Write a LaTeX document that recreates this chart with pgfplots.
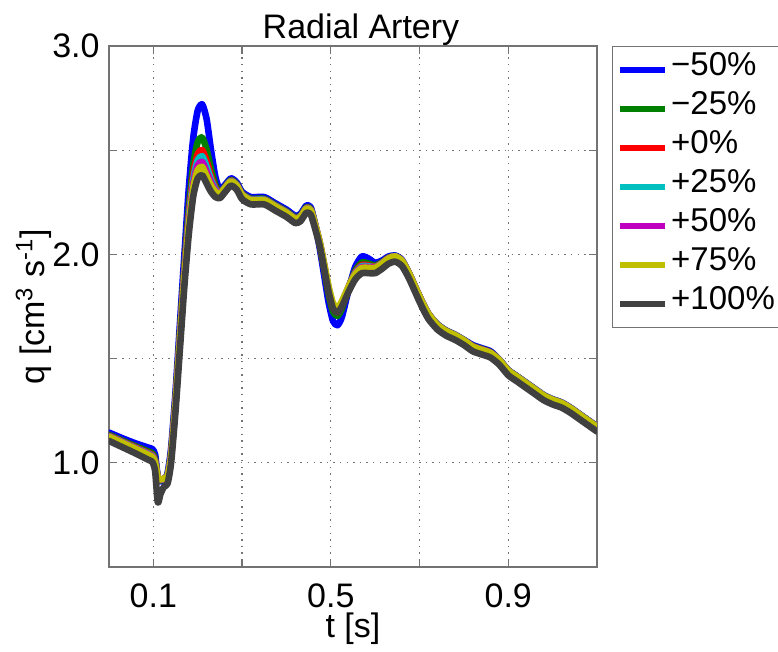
\documentclass[border=0pt]{standalone}
\usepackage{fontspec}
\setmainfont{Liberation Sans}
\usepackage{pgfplots}
\pgfplotsset{compat=1.18}
\usepackage{pgfplotstable}
\usetikzlibrary{calc}

\definecolor{cBlue}{rgb}{0,0,1}
\definecolor{cGreen}{rgb}{0,0.5,0}
\definecolor{cRed}{rgb}{1,0,0}
\definecolor{cCyan}{rgb}{0,0.75,0.75}
\definecolor{cMag}{rgb}{0.75,0,0.75}
\definecolor{cYel}{rgb}{0.75,0.75,0}
\definecolor{cDark}{rgb}{0.25,0.25,0.25}

% t, then -50% ... +100%
\pgfplotstableread{
t     m50   m25   p0    p25   p50   p75   p100
0.000 1.145 1.134 1.130 1.128 1.127 1.125 1.105
0.030 1.118 1.106 1.102 1.100 1.098 1.096 1.075
0.060 1.093 1.079 1.074 1.071 1.069 1.067 1.045
0.090 1.072 1.053 1.046 1.043 1.040 1.037 1.013
0.098 1.065 1.045 1.037 1.033 1.030 1.027 1.003
0.104 1.040 1.019 1.011 1.007 1.003 1.000 0.960
0.110 0.930 0.930 0.930 0.930 0.930 0.930 0.810
0.116 0.910 0.915 0.917 0.918 0.919 0.920 0.850
0.124 0.920 0.923 0.924 0.924 0.925 0.925 0.885
0.132 0.950 0.942 0.939 0.938 0.936 0.935 0.900
0.140 1.070 1.049 1.041 1.037 1.033 1.030 1.000
0.150 1.340 1.308 1.296 1.290 1.285 1.280 1.250
0.160 1.670 1.628 1.612 1.604 1.596 1.590 1.550
0.170 2.000 1.942 1.920 1.909 1.899 1.890 1.850
0.180 2.320 2.225 2.189 2.171 2.154 2.140 2.100
0.190 2.560 2.433 2.385 2.361 2.339 2.320 2.280
0.200 2.690 2.539 2.482 2.453 2.428 2.405 2.365
0.210 2.720 2.561 2.501 2.471 2.444 2.420 2.380
0.220 2.650 2.504 2.449 2.422 2.397 2.375 2.340
0.230 2.500 2.410 2.376 2.359 2.344 2.330 2.300
0.240 2.370 2.333 2.319 2.312 2.306 2.300 2.275
0.250 2.310 2.299 2.295 2.293 2.292 2.290 2.270
0.262 2.335 2.327 2.324 2.323 2.321 2.320 2.300
0.275 2.365 2.357 2.354 2.353 2.351 2.350 2.330
0.288 2.345 2.337 2.334 2.333 2.331 2.330 2.310
0.300 2.300 2.292 2.289 2.288 2.286 2.285 2.265
0.320 2.275 2.267 2.264 2.263 2.261 2.260 2.240
0.350 2.275 2.267 2.264 2.263 2.261 2.260 2.240
0.375 2.245 2.237 2.234 2.233 2.231 2.230 2.210
0.400 2.215 2.207 2.204 2.203 2.201 2.200 2.180
0.420 2.185 2.177 2.174 2.173 2.171 2.170 2.150
0.432 2.195 2.187 2.184 2.183 2.181 2.180 2.160
0.445 2.235 2.227 2.224 2.223 2.221 2.220 2.200
0.455 2.225 2.217 2.214 2.213 2.211 2.210 2.190
0.465 2.140 2.140 2.140 2.140 2.140 2.140 2.120
0.475 2.030 2.046 2.052 2.055 2.058 2.060 2.040
0.485 1.900 1.929 1.940 1.946 1.951 1.955 1.930
0.495 1.770 1.810 1.825 1.832 1.839 1.845 1.820
0.505 1.680 1.725 1.742 1.751 1.758 1.765 1.740
0.515 1.660 1.705 1.722 1.731 1.738 1.745 1.720
0.525 1.700 1.740 1.755 1.762 1.769 1.775 1.750
0.540 1.830 1.838 1.841 1.842 1.844 1.845 1.820
0.555 1.940 1.921 1.914 1.911 1.908 1.905 1.880
0.570 1.990 1.961 1.950 1.944 1.939 1.935 1.910
0.585 1.980 1.956 1.947 1.943 1.939 1.935 1.910
0.600 1.960 1.947 1.942 1.939 1.937 1.935 1.910
0.615 1.970 1.962 1.959 1.958 1.956 1.955 1.930
0.630 1.990 1.985 1.983 1.982 1.981 1.980 1.955
0.645 1.995 1.992 1.991 1.991 1.990 1.990 1.965
0.660 1.975 1.972 1.971 1.971 1.970 1.970 1.945
0.675 1.915 1.915 1.915 1.915 1.915 1.915 1.890
0.690 1.845 1.845 1.845 1.845 1.845 1.845 1.820
0.705 1.775 1.775 1.775 1.775 1.775 1.775 1.750
0.720 1.715 1.715 1.715 1.715 1.715 1.715 1.690
0.740 1.665 1.664 1.663 1.663 1.662 1.662 1.640
0.760 1.635 1.634 1.633 1.633 1.632 1.632 1.610
0.780 1.615 1.614 1.613 1.613 1.612 1.612 1.590
0.800 1.590 1.589 1.588 1.588 1.587 1.587 1.565
0.820 1.565 1.561 1.559 1.558 1.558 1.557 1.535
0.840 1.550 1.546 1.544 1.543 1.543 1.542 1.520
0.860 1.535 1.531 1.529 1.528 1.528 1.527 1.505
0.880 1.495 1.494 1.493 1.493 1.492 1.492 1.470
0.900 1.445 1.444 1.443 1.443 1.442 1.442 1.420
0.920 1.415 1.414 1.413 1.413 1.412 1.412 1.390
0.940 1.385 1.384 1.383 1.383 1.382 1.382 1.360
0.960 1.355 1.354 1.353 1.353 1.352 1.352 1.330
0.980 1.325 1.324 1.323 1.323 1.322 1.322 1.300
1.000 1.305 1.304 1.303 1.303 1.302 1.302 1.280
1.020 1.290 1.289 1.288 1.288 1.287 1.287 1.265
1.040 1.265 1.264 1.263 1.263 1.262 1.262 1.240
1.060 1.235 1.234 1.233 1.233 1.232 1.232 1.210
1.080 1.205 1.204 1.203 1.203 1.202 1.202 1.180
1.100 1.175 1.174 1.173 1.173 1.172 1.172 1.150
}\flowtable

\begin{document}
\begin{tikzpicture}
\begin{axis}[
    name=ax,
    scale only axis,
    width=244pt, height=260.5pt,
    xmin=0, xmax=1.1, ymin=0.5, ymax=3,
    xtick={0.1,0.3,0.5,0.7,0.9},
    xticklabels={0.1,,0.5,,0.9},
    ytick={0.5,1,1.5,2,2.5,3},
    yticklabels={,1.0,,2.0,,3.0},
    font=\fontsize{17}{20}\selectfont,
    /pgf/number format/assume math mode=true,
    grid=major,
    major grid style={black!55, line width=0.6pt, dash pattern=on 0.7pt off 2.6pt},
    tick align=inside,
    major tick length=4pt,
    axis line style={black!55, line width=0.6pt},
    every tick/.style={black!55, line width=0.6pt},
    xticklabel style={inner sep=0pt, anchor=north, yshift=-8pt},
    yticklabel style={inner sep=0pt, anchor=east, xshift=-4.5pt},
    title={Radial Artery},
    title style={at={(rel axis cs:0.5,1)}, anchor=base, yshift=-2.5pt, xshift=4pt, inner sep=0pt},
    xlabel={t [s]},
    xlabel style={at={(rel axis cs:0.5,0)}, anchor=base, yshift=-35.5pt, inner sep=0pt},
    ylabel={q [cm\textsuperscript{3} s\textsuperscript{-1}]},
    ylabel style={at={($(rel axis cs:0,0.5)+(-32pt,0pt)$)}, anchor=base, inner sep=0pt},
    every axis plot/.append style={line width=3.3pt, line join=round, line cap=round, smooth, tension=0.4},
    legend cell align=left,
    legend image code/.code={\draw[#1, line cap=butt] (0pt,0pt) -- (22.5pt,0pt);},
    legend style={at={(rel axis cs:1,1)}, anchor=north west, xshift=7.5pt,
        draw=black!55, line width=0.6pt,
        font=\fontsize{16.5}{19}\selectfont,
        inner xsep=2pt, inner ysep=2pt, row sep=0pt,
        nodes={inner xsep=1.5pt, inner ysep=0pt, text height=12.5pt, text depth=7pt}},
]
\addplot[cBlue]  table[x=t, y=m50]  {\flowtable};
\addlegendentry{−50\%}
\addplot[cGreen] table[x=t, y=m25]  {\flowtable};
\addlegendentry{−25\%}
\addplot[cRed]   table[x=t, y=p0]   {\flowtable};
\addlegendentry{+0\%}
\addplot[cCyan]  table[x=t, y=p25]  {\flowtable};
\addlegendentry{+25\%}
\addplot[cMag]   table[x=t, y=p50]  {\flowtable};
\addlegendentry{+50\%}
\addplot[cYel]   table[x=t, y=p75]  {\flowtable};
\addlegendentry{+75\%}
\addplot[cDark]  table[x=t, y=p100] {\flowtable};
\addlegendentry{+100\%}
\end{axis}
\pgfresetboundingbox
\path ($(ax.south west)+(-54.5pt,-42.5pt)$) rectangle ($(ax.north east)+(90.5pt,23pt)$);
\end{tikzpicture}
\end{document}
